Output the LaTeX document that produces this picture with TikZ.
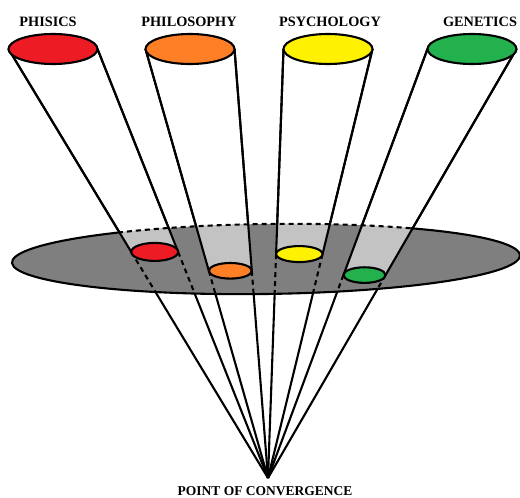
\documentclass[tikz,border=0pt]{standalone}
\usepackage{fontspec}
\setmainfont{Liberation Serif}
\usetikzlibrary{calc}
\definecolor{cred}{HTML}{ED1C24}
\definecolor{corange}{HTML}{FF7F27}
\definecolor{cyellow}{HTML}{FFF200}
\definecolor{cgreen}{HTML}{22B14C}
\definecolor{dgray}{HTML}{7F7F7F}
\definecolor{lgray}{HTML}{C3C3C3}
\begin{document}
\begin{tikzpicture}[x=1pt,y=1pt,line width=2.1pt,line join=round,
  lab/.style={font=\bfseries\fontsize{14.3}{16}\selectfont,inner sep=0pt,anchor=base},
  botlab/.style={font=\bfseries\fontsize{13.5}{16}\selectfont,inner sep=0pt,anchor=base},
  side/.style={draw=black,line width=2.1pt},
  hidden/.style={draw=black,line width=2.1pt,dash pattern=on 5pt off 4pt},
  disc/.style={draw=black,line width=2.1pt}]
\useasboundingbox (0,0) rectangle (520,-498);
% apex
\coordinate (A) at (268,-478);
% top ellipse sides and small ellipse sides
\foreach \n/\cx/\t in {r/53/0.473,o/190/0.517,y/328/0.478,g/472/0.527}{
  \coordinate (C\n) at (\cx,-49);
  \coordinate (L\n) at (\cx-44.5,-49);
  \coordinate (R\n) at (\cx+44.5,-49);
  \coordinate (l\n) at ($(L\n)!\t!(A)$);
  \coordinate (r\n) at ($(R\n)!\t!(A)$);
  \coordinate (c\n) at ($(l\n)!0.5!(r\n)$);
}
% full lines to apex
\foreach \n in {r,o,y,g}{
  \draw[side] (L\n) -- (A);
  \draw[side] (R\n) -- (A);
}
% the plane
\begin{scope}[rotate around={0.8:(266,-259)}]
  \coordinate (P) at (266,-259);
  \fill[dgray] (P) ellipse [x radius=254pt,y radius=35pt];
  \begin{scope}
    \clip (P) ellipse [x radius=254pt,y radius=35pt];
    \foreach \n in {r,o,y,g}{
      \fill[lgray] (L\n) -- (R\n) -- (r\n) -- (l\n) -- cycle;
      \draw[hidden] (l\n) -- (A);
      \draw[hidden] (r\n) -- (A);
    }
  \end{scope}
  \draw[disc] ([shift={(125.1:254pt and 35pt)}]P) arc[start angle=125.1,end angle=415.2,x radius=254pt,y radius=35pt];
  \draw[hidden] ([shift={(55.2:254pt and 35pt)}]P) arc[start angle=55.2,end angle=125.1,x radius=254pt,y radius=35pt];
\end{scope}
% visible cylinder sides
\foreach \n in {r,o,y,g}{
  \draw[side] (L\n) -- (l\n);
  \draw[side] (R\n) -- (r\n);
}
% small ellipses on the plane
\draw[disc,fill=cred] (cr) ellipse [x radius=23.5pt,y radius=9pt];
\draw[disc,fill=corange] (co) ellipse [x radius=21.5pt,y radius=7.8pt];
\draw[disc,fill=cyellow] (cy) ellipse [x radius=23.2pt,y radius=8pt];
\draw[disc,fill=cgreen] (cg) ellipse [x radius=21pt,y radius=7.8pt];
% top ellipses
\draw[disc,fill=cred] (Cr) ellipse [x radius=44.5pt,y radius=15pt];
\draw[disc,fill=corange] (Co) ellipse [x radius=44.5pt,y radius=15pt];
\draw[disc,fill=cyellow] (Cy) ellipse [x radius=44.5pt,y radius=15pt];
\draw[disc,fill=cgreen] (Cg) ellipse [x radius=44.5pt,y radius=15pt];
% labels
\node[lab] (tphys) at (48,-26.7) {PHISICS};
\node[lab] (tphil) at (189,-26.7) {PHILOSOPHY};
\node[lab] (tpsy) at (330,-26.7) {PSYCHOLOGY};
\node[lab] (tgen) at (480,-26.7) {GENETICS};
\node[botlab] (tconv) at (265,-495) {POINT OF CONVERGENCE};
\end{tikzpicture}
\end{document}
